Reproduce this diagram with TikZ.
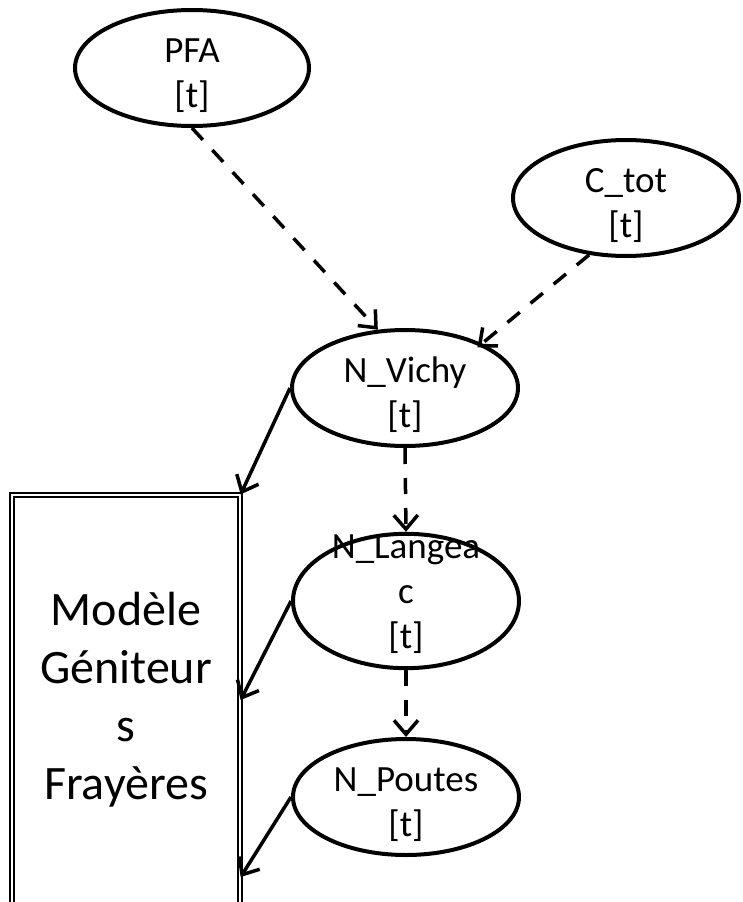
\documentclass[tikz,border=0pt]{standalone}
\usepackage{fontspec}
\setmainfont{Carlito}
\usetikzlibrary{shapes.geometric,arrows.meta}
\begin{document}
\begin{tikzpicture}[x=1pt,y=-1pt]
    % Define styles for different elements
    \tikzstyle{var} = [ellipse, draw, line width=4pt, inner sep=0pt, minimum width=226pt, minimum height=116pt, align=center, text height=78pt, text depth=0pt, font=\fontsize{37}{45}\selectfont]
    \tikzstyle{model} = [rectangle, draw, double, line width=1.3pt, double distance=2.5pt, minimum width=228pt, minimum height=410pt, align=center, font=\fontsize{48}{58}\selectfont]
    \tikzstyle{link} = [draw, line width=3.5pt, dash pattern=on 16pt off 14pt, -{Straight Barb[length=14pt,width=24pt]}]
    \tikzstyle{feed} = [draw, line width=3.5pt, -{Straight Barb[length=14pt,width=24pt]}]

    \useasboundingbox (0,0) rectangle (742,902);

    % Draw the variables
    \node[var, minimum width=234pt] (pfa) at (192,68) {PFA\\{[t]}};
    \node[var] (ctot) at (626,198) {C\_tot\\{[t]}};
    \node[var] (vichy) at (405,388) {N\_Vichy\\{[t]}};
    \node[var, text height=95pt, text depth=-13pt] (langeac) at (406,601) {N\_Langea\\c\\{[t]}};
    \node[var] (poutes) at (406,797) {N\_Poutes\\{[t]}};

    % Model box
    \node[model] (box) at (126,700) {Modèle\\Géniteur\\s\\Frayères};
    \coordinate (boxlow) at (box.east |- 0,877);

    % Connect the nodes
    \draw[link] (pfa.south) -- (vichy.115);
    \draw[link, shorten >=-6pt] (ctot.237) -- (vichy.30);
    \draw[link] (vichy.south) -- (langeac.north);
    \draw[link] (langeac.south) -- (poutes.north);
    \draw[feed] (vichy.west) -- (box.north east);
    \draw[feed] (langeac.west) -- (box.east);
    \draw[feed] (poutes.west) -- (boxlow);
\end{tikzpicture}
\end{document}
